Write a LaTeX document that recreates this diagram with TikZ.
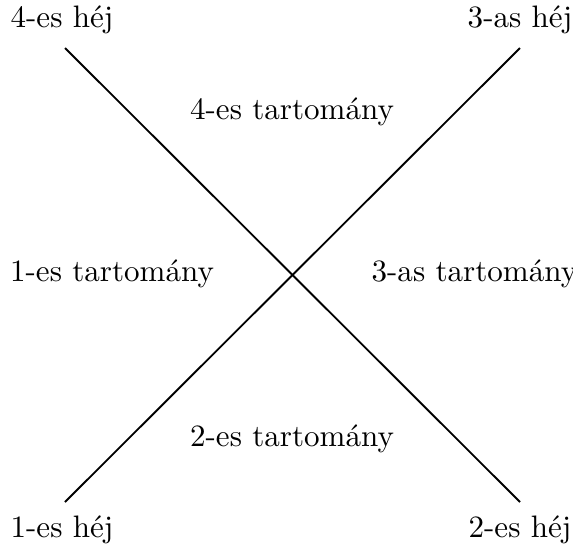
\documentclass[tikz,border=0pt]{standalone}
\begin{document}
\begin{tikzpicture}[x=0.322pt,y=-0.322pt,
  lbl/.style={anchor=base,inner sep=0pt},
  shell/.style={line width=0.6pt}]
\useasboundingbox (0,0) rectangle (573,556);
\coordinate (p1) at (65,502);
\coordinate (p3) at (520,48);
\coordinate (p4) at (65,48);
\coordinate (p2) at (520,502);
\draw[shell] (p1) -- (p3);
\draw[shell] (p4) -- (p2);
\node[lbl] (h4) at (62,27) {4-es héj};
\node[lbl] (h3) at (520,27) {3-as héj};
\node[lbl] (h1) at (62,537) {1-es héj};
\node[lbl] (h2) at (520,537) {2-es héj};
\node[lbl] (t4) at (292,119) {4-es tartomány};
\node[lbl] (t2) at (292,446) {2-es tartomány};
\node[lbl] (t1) at (112,281) {1-es tartomány};
\node[lbl,anchor=base west] (t3) at (371,281) {3-as tartomány};
\end{tikzpicture}
\end{document}
